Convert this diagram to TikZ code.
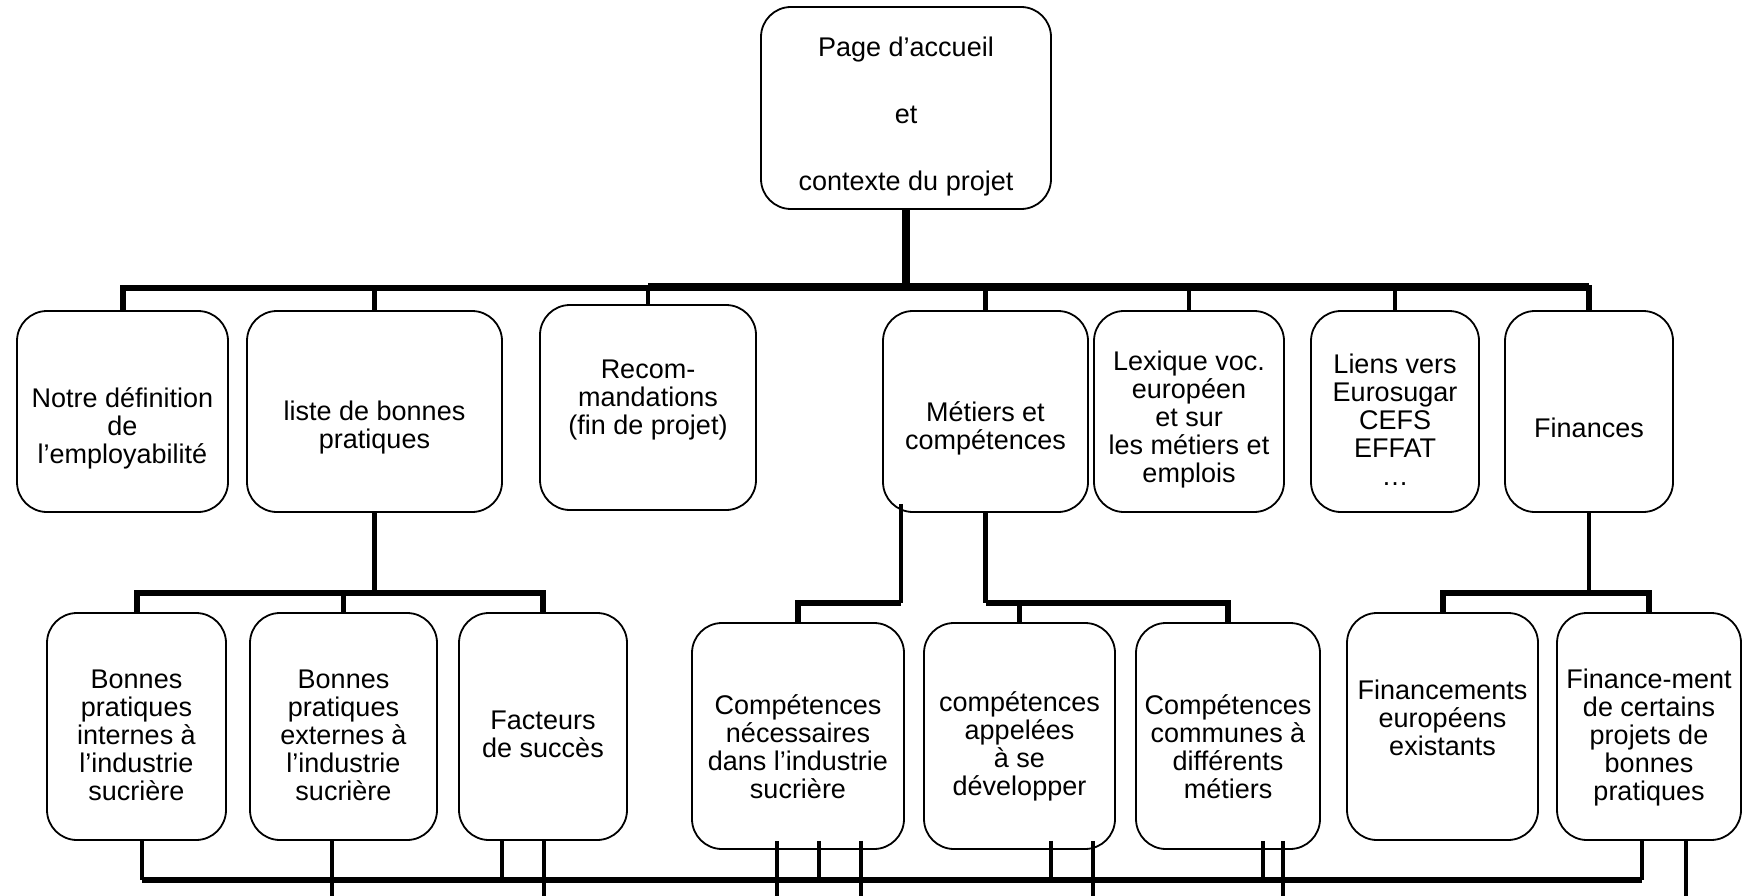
\documentclass[tikz,border=0pt]{standalone}
\usepackage{fontspec}
\setmainfont{Liberation Sans}
\tikzset{
  box/.style={draw, line width=1.8pt, rounded corners=30pt, fill=white, inner sep=0pt},
  txt/.style={align=center, font=\fontsize{27}{28}\selectfont, inner sep=0pt},
  ln/.style={line width=4.5pt},
  busln/.style={line width=6pt},
}
\begin{document}
\begin{tikzpicture}[x=1pt,y=-1pt]
\useasboundingbox (0,0) rectangle (1744,896);
\clip (0,0) rectangle (1744,896);
\fill[white] (0,0) rectangle (1744,896);

% boxes
\node[box, minimum width=290pt, minimum height=202pt] (top) at (906,108) {};
\node[box, minimum width=211pt, minimum height=201pt] (n1) at (122.5,411.5) {};
\node[box, minimum width=255pt, minimum height=201pt] (n2) at (374.5,411.5) {};
\node[box, minimum width=216pt, minimum height=205pt] (n3) at (648,407.5) {};
\node[box, minimum width=205pt, minimum height=201pt] (n4) at (985.5,411.5) {};
\node[box, minimum width=190pt, minimum height=201pt] (n5) at (1189,411.5) {};
\node[box, minimum width=168pt, minimum height=201pt] (n6) at (1395,411.5) {};
\node[box, minimum width=168pt, minimum height=201pt] (n7) at (1589,411.5) {};
\node[box, minimum width=179pt, minimum height=227pt] (m1) at (136.5,726.5) {};
\node[box, minimum width=187pt, minimum height=227pt] (m2) at (343.5,726.5) {};
\node[box, minimum width=168pt, minimum height=227pt] (m3) at (543,726.5) {};
\node[box, minimum width=212pt, minimum height=226pt] (p1) at (798,736) {};
\node[box, minimum width=191pt, minimum height=226pt] (p2) at (1019.5,736) {};
\node[box, minimum width=184pt, minimum height=226pt] (p3) at (1228,736) {};
\node[box, minimum width=191pt, minimum height=227pt] (q1) at (1442.5,726.5) {};
\node[box, minimum width=184pt, minimum height=227pt] (q2) at (1649,726.5) {};

% texts
\node[txt] (ttop) at (906,116.5) {Page d’accueil\\[39pt]et\\[39pt]contexte du projet};
\node[txt] (t1) at (122.5,428) {Notre définition\\de\\l’employabilité};
\node[txt] (t2) at (374.5,428) {liste de bonnes\\pratiques};
\node[txt] (t3) at (648,400) {Recom-\\mandations\\(fin de projet)};
\node[txt] (t4) at (985.5,428) {Métiers et\\compétences};
\node[txt] (t5) at (1189,420) {Lexique voc.\\européen\\et sur\\les métiers et\\emplois};
\node[txt] (t6) at (1395,420) {Liens vers\\Eurosugar\\CEFS\\EFFAT\\…};
\node[txt] (t7) at (1589,428) {Finances};
\node[txt] (u1) at (136.5,735.5) {Bonnes\\pratiques\\internes à\\l’industrie\\sucrière};
\node[txt] (u2) at (343.5,735.5) {Bonnes\\pratiques\\externes à\\l’industrie\\sucrière};
\node[txt] (u3) at (543,734) {Facteurs\\de succès};
\node[txt] (v1) at (798,746.5) {Compétences\\nécessaires\\dans l’industrie\\sucrière};
\node[txt] (v2) at (1019.5,746.5) {compétences\\appelées\\à se\\développer};
\node[txt] (v3) at (1228,746.5) {Compétences\\communes à\\différents\\métiers};
\node[txt] (w1) at (1442.5,718) {Financements\\européens\\existants};
\node[txt] (w2) at (1649,737.5) {Finance-ment\\de certains\\projets de\\bonnes\\pratiques};

% helper coordinates
\coordinate (b1) at (906,288);
\coordinate (b2) at (648,287);
\coordinate (c1) at (374.5,593);
\coordinate (c2) at (901,603);
\coordinate (c4) at (1589,593);
\coordinate (bb) at (0,880);
\coordinate (bot) at (0,905);

% top level connectors
\draw[line width=8pt] (top.south) -- (b1);
\draw[busln] (n1.north) |- (b1) -| (n7.north);
\draw[line width=7.5pt] (b2) -- (b2 -| n7.north);
\foreach \n in {n2,n3,n4,n5,n6} \draw[ln] (\n.north) -- (\n.north |- b1);

% liste -> level 3
\draw[ln] (n2.south) -- (c1);
\draw[busln] (m1.north) |- (c1) -| (m3.north);
\draw[ln] (m2.north) -- (m2.north |- c1);

% metiers -> level 3
\coordinate (ms) at ([xshift=-84.5pt,yshift=9pt]n4.south);
\draw[ln] (ms) -- (c2);
\draw[busln] (c2) -| (p1.north);
\draw[ln] (n4.south) -- (n4.south |- c2);
\draw[busln] (n4.south |- c2) -| (p3.north);
\draw[ln] (p2.north) -- (p2.north |- c2);

% finances -> level 3
\draw[ln] (n7.south) -- (c4);
\draw[busln] (q1.north) |- (c4) -| (q2.north);

% bottom bus
\coordinate (f1) at ([xshift=5.5pt]m1.south);
\coordinate (f2) at ([xshift=-7pt]q2.south);
\draw[ln] (f1) -- (f1 |- bb);
\draw[ln] (f2) -- (f2 |- bb);
\draw[busln] (f1 |- bb) -- (f2 |- bb);

% stops at the bus
\coordinate (h1) at ([xshift=-41pt]m3.south);
\coordinate (h2) at ([xshift=21pt,yshift=9pt]p1.south);
\coordinate (h3) at ([xshift=31.5pt,yshift=9pt]p2.south);
\coordinate (h4) at ([xshift=35pt,yshift=9pt]p3.south);
\foreach \h in {h1,h2,h3,h4} \draw[ln] (\h) -- (\h |- bb);

% through lines
\coordinate (g1) at ([xshift=-11.5pt]m2.south);
\coordinate (g2) at ([xshift=1pt]m3.south);
\coordinate (g3) at ([xshift=-21pt,yshift=9pt]p1.south);
\coordinate (g4) at ([xshift=63pt,yshift=9pt]p1.south);
\coordinate (g5) at ([xshift=73.5pt,yshift=9pt]p2.south);
\coordinate (g6) at ([xshift=55pt,yshift=9pt]p3.south);
\coordinate (g7) at ([xshift=37pt]q2.south);
\foreach \g in {g1,g2,g3,g4,g5,g6,g7} \draw[ln] (\g) -- (\g |- bot);
\end{tikzpicture}
\end{document}
